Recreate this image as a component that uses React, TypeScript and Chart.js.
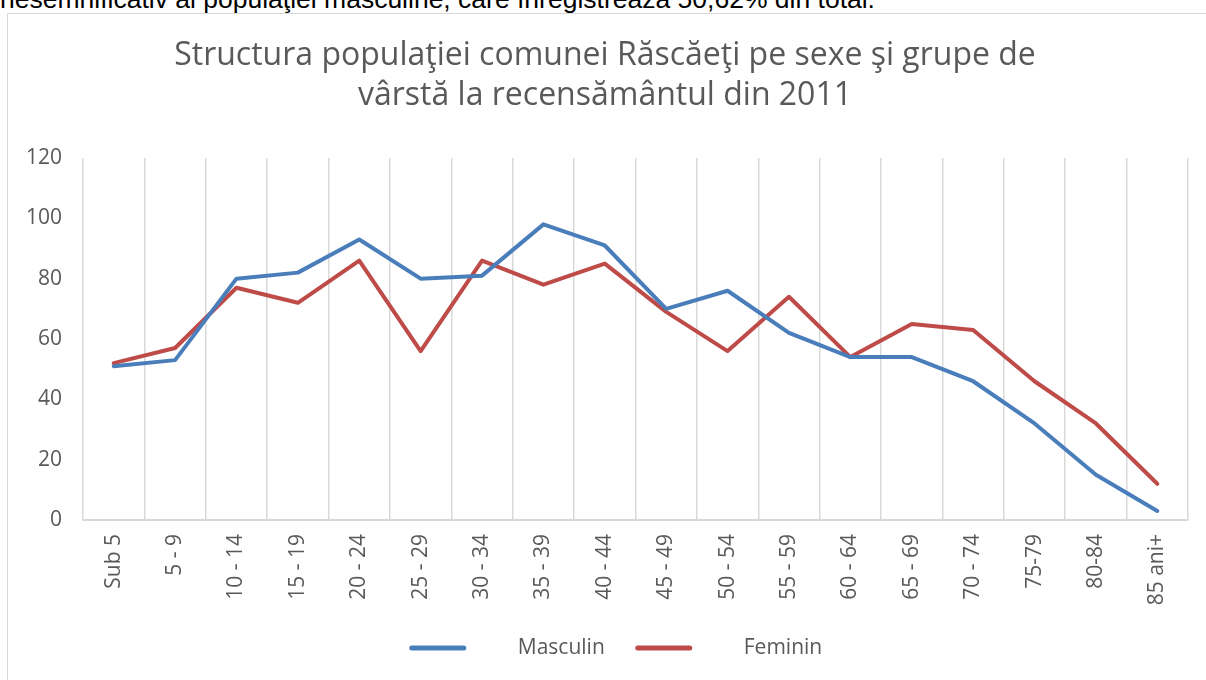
import React, { useEffect, useRef } from 'react';
import { Chart, registerables } from 'chart.js';

Chart.register(...registerables);

const categories = ['Sub 5', '5 - 9', '10 - 14', '15 - 19', '20 - 24', '25 - 29', '30 - 34', '35 - 39', '40 - 44', '45 - 49', '50 - 54', '55 - 59', '60 - 64', '65 - 69', '70 - 74', '75-79', '80-84', '85 ani+'];
const masculin = [51, 53, 80, 82, 93, 80, 81, 98, 91, 70, 76, 62, 54, 54, 46, 32, 15, 3];
const feminin = [52, 57, 77, 72, 86, 56, 86, 78, 85, 69, 56, 74, 54, 65, 63, 46, 32, 12];
const seriesNames = ['Masculin', 'Feminin'];
const seriesColors = ['#4A7EBB', '#BE4B48'];
const yMin = 0;
const yMax = 120;
const yStep = 20;
const titleLines = ['Structura populaţiei comunei Răscăeţi pe sexe şi grupe de', 'vârstă la recensământul din 2011'];
const introText = 'nesemnificativ al populaţiei masculine, care înregistrează 50,62% din total.';

const FONT = '"Open Sans", "DejaVu Sans", sans-serif';
const GREY = '#595959';

const titleShiftPlugin = {
  id: 'titleShift',
  afterLayout(chart: any) {
    const t = chart.titleBlock;
    if (t) {
      t.left += 11;
      t.right += 11;
    }
  },
};

const legendPlugin = {
  id: 'customLegend',
  afterDraw(chart: any) {
    const ctx = chart.ctx as CanvasRenderingContext2D;
    ctx.save();
    ctx.font = `21px ${FONT}`;
    const items = chart.data.datasets.map((ds: any) => ({
      label: ds.label,
      color: ds.borderColor,
      w: ctx.measureText(ds.label).width,
    }));
    const lineW = 56;
    const gapText = 52;
    const gapItem = 31;
    const total = items.reduce((s: number, it: any) => s + lineW + gapText + it.w, 0) + gapItem * (items.length - 1);
    let x = 616 - total / 2;
    const y = 648;
    items.forEach((it: any) => {
      ctx.strokeStyle = it.color;
      ctx.lineWidth = 5;
      ctx.lineCap = 'round';
      ctx.beginPath();
      ctx.moveTo(x + 2, y);
      ctx.lineTo(x + lineW - 2, y);
      ctx.stroke();
      ctx.fillStyle = GREY;
      ctx.textBaseline = 'middle';
      ctx.textAlign = 'left';
      ctx.fillText(it.label, x + lineW + gapText, y);
      x += lineW + gapText + it.w + gapItem;
    });
    ctx.restore();
  },
};

export default function App() {
  const canvasRef = useRef<HTMLCanvasElement | null>(null);

  useEffect(() => {
    if (!canvasRef.current) return;
    const chart = new Chart(canvasRef.current, {
      type: 'line',
      data: {
        labels: categories,
        datasets: [
          {
            label: seriesNames[0],
            data: masculin,
            borderColor: seriesColors[0],
            backgroundColor: seriesColors[0],
            borderWidth: 4,
            pointRadius: 0,
            pointHoverRadius: 0,
            tension: 0,
            borderJoinStyle: 'round',
            borderCapStyle: 'round',
          },
          {
            label: seriesNames[1],
            data: feminin,
            borderColor: seriesColors[1],
            backgroundColor: seriesColors[1],
            borderWidth: 4,
            pointRadius: 0,
            pointHoverRadius: 0,
            tension: 0,
            borderJoinStyle: 'round',
            borderCapStyle: 'round',
          },
        ],
      },
      options: {
        responsive: false,
        animation: false,
        layout: { padding: { top: 0, left: 0, right: 18, bottom: 0 } },
        plugins: {
          legend: { display: false },
          tooltip: { enabled: false },
          title: {
            display: true,
            text: titleLines,
            color: GREY,
            font: { family: FONT, size: 32, weight: 'normal', lineHeight: 40 / 32 },
            padding: { top: 36, bottom: 42 },
          },
        },
        scales: {
          x: {
            offset: true,
            grid: { display: true, offset: true, color: '#d9d9d9', lineWidth: 1.5, drawTicks: false },
            border: { display: true, color: '#d9d9d9', width: 2 },
            ticks: {
              color: GREY,
              font: { family: FONT, size: 21 },
              minRotation: 90,
              maxRotation: 90,
              autoSkip: false,
              padding: 14,
            },
            afterFit(scale: any) {
              scale.height = 160;
            },
          },
          y: {
            min: yMin,
            max: yMax,
            grid: { display: false, drawTicks: false },
            border: { display: false },
            ticks: {
              stepSize: yStep,
              color: GREY,
              font: { family: FONT, size: 21 },
              padding: 21,
            },
            afterFit(scale: any) {
              scale.width = 83;
            },
          },
        },
      },
      plugins: [titleShiftPlugin, legendPlugin],
    });
    return () => chart.destroy();
  }, []);

  return (
    <div style={{ position: 'fixed', left: 0, top: 0, width: 1206, height: 680, overflow: 'hidden', background: '#fff' }}>
      <div
        style={{
          position: 'absolute',
          left: 0,
          top: -16,
          whiteSpace: 'nowrap',
          font: '26.5px "Liberation Sans", Arial, sans-serif',
          color: '#000',
          lineHeight: '30px',
        }}
      >
        {introText}
      </div>
      <div
        style={{
          position: 'absolute',
          left: 7,
          top: 13,
          width: 1210,
          height: 700,
          border: '1.5px solid #d9d9d9',
          boxSizing: 'border-box',
        }}
      />
      <canvas ref={canvasRef} width={1206} height={680} style={{ position: 'absolute', left: 0, top: 0 }} />
    </div>
  );
}
